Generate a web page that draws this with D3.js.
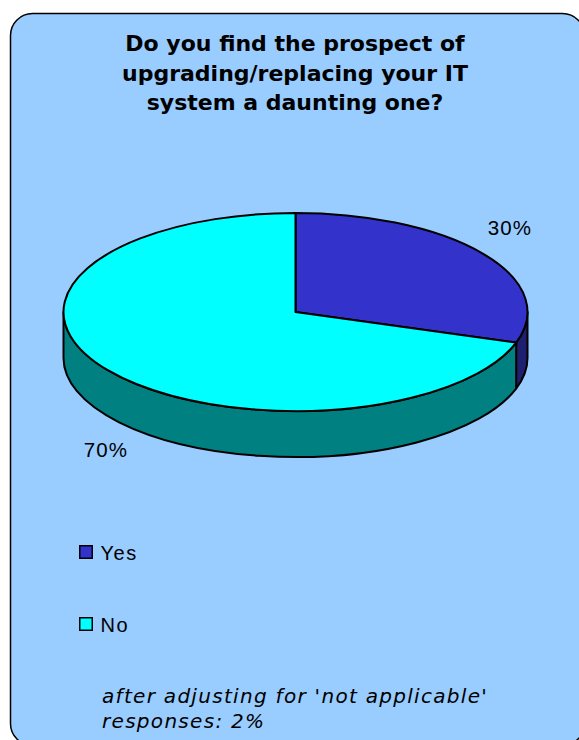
<!DOCTYPE html>
<html>
<head>
<meta charset="utf-8">
<script src="https://cdn.jsdelivr.net/npm/d3@7"></script>
<style>
  html, body { margin: 0; padding: 0; background: #ffffff; }
  svg { display: block; }
</style>
</head>
<body>
<svg id="chart" width="579" height="740"></svg>
<script>
// Survey answers
const categories = ["Yes", "No"];
const shares = [30, 70];
const sliceLabels = ["30%", "70%"];
const titleLines = [
  "Do you find the prospect of",
  "upgrading/replacing your IT",
  "system a daunting one?"
];
const footnoteLines = [
  "after adjusting for 'not applicable'",
  "responses: 2%"
];

const topColors = d3.scaleOrdinal().domain(categories).range(["#3333cc", "#00ffff"]);
const sideColors = d3.scaleOrdinal().domain(categories).range(["#1f1f70", "#008080"]);

const svg = d3.select("#chart");

// Panel
svg.append("rect")
  .attr("x", 10.5).attr("y", 13.5)
  .attr("width", 574).attr("height", 732)
  .attr("rx", 22).attr("ry", 22)
  .attr("fill", "#99ccff")
  .attr("stroke", "#000").attr("stroke-width", 1.5);

// Title
svg.append("text")
  .attr("text-anchor", "middle")
  .attr("font-family", "DejaVu Sans, Verdana, sans-serif")
  .attr("font-weight", "bold")
  .attr("font-size", 22)
  .attr("fill", "#000")
  .selectAll("tspan")
  .data(titleLines)
  .join("tspan")
  .attr("x", 295)
  .attr("y", (d, i) => 51 + i * 29.5)
  .text(d => d);

// 3-D pie geometry
const cx = 295.5, cy = 312, rx = 232, ry = 99, depth = 46;
const pt = (a, dy = 0) => [cx + rx * Math.sin(a), cy - ry * Math.cos(a) + dy];

const pie = d3.pie().sort(null).value(d => d.value);
const slices = pie(categories.map((c, i) => ({ name: c, value: shares[i] })));

// Visible outer wall: front half of the ellipse (3 o'clock to 9 o'clock)
function wallPath(a0, a1) {
  const s = Math.max(a0, Math.PI / 2), e = Math.min(a1, 3 * Math.PI / 2);
  if (s >= e) return null;
  const large = (e - s) > Math.PI ? 1 : 0;
  const p0 = pt(s), p1 = pt(e), q1 = pt(e, depth), q0 = pt(s, depth);
  return `M${p0}A${rx},${ry} 0 ${large} 1 ${p1}L${q1}A${rx},${ry} 0 ${large} 0 ${q0}Z`;
}

function topPath(a0, a1) {
  const large = (a1 - a0) > Math.PI ? 1 : 0;
  return `M${cx},${cy}L${pt(a0)}A${rx},${ry} 0 ${large} 1 ${pt(a1)}Z`;
}

const g = svg.append("g")
  .attr("stroke", "#000")
  .attr("stroke-width", 2)
  .attr("stroke-linejoin", "round");

g.selectAll("path.wall")
  .data(slices.filter(d => wallPath(d.startAngle, d.endAngle)))
  .join("path")
  .attr("class", "wall")
  .attr("d", d => wallPath(d.startAngle, d.endAngle))
  .attr("fill", d => sideColors(d.data.name));

g.selectAll("path.top")
  .data(slices)
  .join("path")
  .attr("class", "top")
  .attr("d", d => topPath(d.startAngle, d.endAngle))
  .attr("fill", d => topColors(d.data.name));

// Percentage labels
const labelPos = [[510, 235], [106, 457]];
svg.selectAll("text.pct")
  .data(slices)
  .join("text")
  .attr("class", "pct")
  .attr("x", (d, i) => labelPos[i][0])
  .attr("y", (d, i) => labelPos[i][1])
  .attr("text-anchor", "middle")
  .attr("font-family", "Liberation Sans, Arial, sans-serif")
  .attr("font-size", 20.5)
  .attr("letter-spacing", 1.2)
  .attr("fill", "#000")
  .text((d, i) => sliceLabels[i]);

// Legend
const legend = svg.selectAll("g.legend")
  .data(categories)
  .join("g")
  .attr("class", "legend")
  .attr("transform", (d, i) => `translate(79,${545 + i * 72})`);

legend.append("rect")
  .attr("x", 0.75).attr("y", 0.75)
  .attr("width", 12.5).attr("height", 12.5)
  .attr("fill", d => topColors(d))
  .attr("stroke", "#000").attr("stroke-width", 1.5);

legend.append("text")
  .attr("x", 21.5).attr("y", 15)
  .attr("font-family", "Liberation Sans, Arial, sans-serif")
  .attr("font-size", 20)
  .attr("letter-spacing", 1.5)
  .attr("fill", "#000")
  .text(d => d);

// Footnote
svg.append("text")
  .attr("font-family", "DejaVu Sans, Verdana, sans-serif")
  .attr("font-style", "italic")
  .attr("font-size", 20)
  .attr("letter-spacing", 1.3)
  .attr("fill", "#000")
  .selectAll("tspan")
  .data(footnoteLines)
  .join("tspan")
  .attr("x", 102)
  .attr("y", (d, i) => 703 + i * 25)
  .text(d => d);
</script>
</body>
</html>
